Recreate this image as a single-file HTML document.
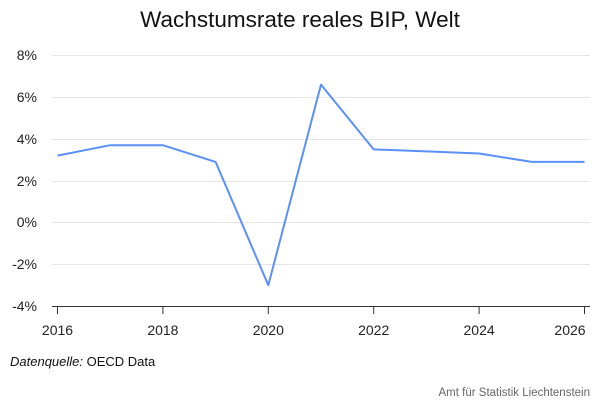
<!DOCTYPE html>
<html><head><meta charset="utf-8"><style>
body{margin:0;background:#fff;width:600px;height:400px;overflow:hidden}
</style></head><body>
<svg width="600" height="400" xmlns="http://www.w3.org/2000/svg" font-family="Liberation Sans, sans-serif">
<text x="300" y="27" text-anchor="middle" font-size="22.5" fill="#111">Wachstumsrate reales BIP, Welt</text>
<g stroke="#e6e6e6" stroke-width="1">
<line x1="52" x2="590" y1="55.5" y2="55.5"/>
<line x1="52" x2="590" y1="97.5" y2="97.5"/>
<line x1="52" x2="590" y1="139.5" y2="139.5"/>
<line x1="52" x2="590" y1="181.5" y2="181.5"/>
<line x1="52" x2="590" y1="222.5" y2="222.5"/>
<line x1="52" x2="590" y1="264.5" y2="264.5"/>
</g>
<line x1="52" x2="590" y1="306.5" y2="306.5" stroke="#333"/>
<g stroke="#333"><line x1="57.5" x2="57.5" y1="306" y2="314"/><line x1="162.9" x2="162.9" y1="306" y2="314"/><line x1="268.3" x2="268.3" y1="306" y2="314"/><line x1="373.7" x2="373.7" y1="306" y2="314"/><line x1="479.1" x2="479.1" y1="306" y2="314"/><line x1="584.5" x2="584.5" y1="306" y2="314"/></g>
<g font-size="14" fill="#222" text-anchor="end">
<text x="37" y="60">8%</text><text x="37" y="102">6%</text><text x="37" y="144">4%</text><text x="37" y="186">2%</text><text x="37" y="227">0%</text><text x="37" y="269">-2%</text><text x="37" y="311">-4%</text>
</g>
<g font-size="14" fill="#222" text-anchor="middle">
<text x="57.5" y="335">2016</text><text x="162.9" y="335">2018</text><text x="268.3" y="335">2020</text><text x="373.7" y="335">2022</text><text x="479.1" y="335">2024</text><text x="570" y="335">2026</text>
</g>
<polyline fill="none" stroke="#5b8ff9" stroke-width="2" stroke-linejoin="round" points="57.5,155.6 110.2,145.2 162.9,145.2 215.6,161.9 268.3,285.2 321,84.6 373.7,149.4 426.4,151.4 479.1,153.5 531.8,161.9 584.5,161.9"/>
<text x="10" y="366" font-size="13" fill="#111"><tspan font-style="italic">Datenquelle:</tspan> OECD Data</text>
<text x="590" y="396" font-size="11.5" fill="#666" text-anchor="end">Amt für Statistik Liechtenstein</text>
</svg>
</body></html>
